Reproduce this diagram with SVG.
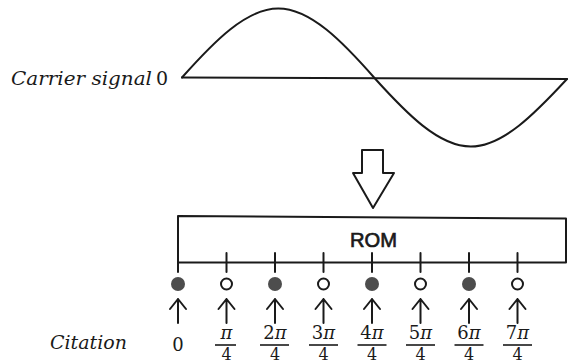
<svg xmlns="http://www.w3.org/2000/svg" width="572" height="364" viewBox="0 0 572 364">
<style>
.ln{fill:none;stroke:#1a1a1a;stroke-width:2;stroke-linecap:round;stroke-linejoin:round}
.it{font-family:"DejaVu Serif","Liberation Serif",serif;font-style:italic;fill:#1a1a1a}
.num{font-family:"DejaVu Serif","Liberation Serif",serif;fill:#1a1a1a;font-size:18px;text-anchor:middle}
.den{font-family:"DejaVu Serif","Liberation Serif",serif;fill:#1a1a1a;font-size:16px;text-anchor:middle}
.fill{fill:#4d4d4d}
.hol{fill:#fff;stroke:#1a1a1a;stroke-width:2}
.bar{stroke:#1a1a1a;stroke-width:1.6}
</style>
<rect width="572" height="364" fill="#fff"/>
<g id="carrier">
<text class="it" x="11" y="85" font-size="19" textLength="141" lengthAdjust="spacingAndGlyphs">Carrier  signal</text>
<text x="156" y="85" font-family="DejaVu Serif, Liberation Serif, serif" font-size="19" fill="#1a1a1a">0</text>
<line class="ln" x1="182" y1="77.5" x2="567" y2="79"/>
<path class="ln" d="M182,77.5 C214.1,41.4 246.2,8.5 278.3,8.5 C310.3,8.5 342.4,41.4 374.5,78 C406.6,113.6 438.7,146.5 470.8,146.5 C502.8,146.5 534.9,113.6 567,79"/>
</g>
<g id="big-arrow">
<path class="ln" d="M362,150 L383,150 L383,173 L394,173 L373,208 L353,173 L362,173 Z"/>
</g>
<g id="rom">
<path class="ln" d="M178,272 L178,216 L566,218.5 L566,262.5 L178,262.5"/>
<text x="373.5" y="247" font-family="Liberation Sans, Arial, sans-serif" font-size="21" text-anchor="middle" textLength="47" lengthAdjust="spacingAndGlyphs" fill="#1a1a1a" stroke="#1a1a1a" stroke-width="0.7">ROM</text>
<g class="ln">
<line x1="226.5" y1="253" x2="226.5" y2="272"/>
<line x1="275" y1="253" x2="275" y2="272"/>
<line x1="323.5" y1="253" x2="323.5" y2="272"/>
<line x1="372" y1="253" x2="372" y2="272"/>
<line x1="420.5" y1="253" x2="420.5" y2="272"/>
<line x1="469" y1="253" x2="469" y2="272"/>
<line x1="517.5" y1="253" x2="517.5" y2="272"/>
</g>
</g>
<g id="citation-label">
<text class="it" x="50" y="349" font-size="19" textLength="77" lengthAdjust="spacingAndGlyphs">Citation</text>
</g>
<g id="s0"><circle class="fill" cx="178" cy="284" r="7"/><text class="num" x="178" y="351" font-size="19">0</text></g>
<g id="s1"><circle class="hol" cx="226.5" cy="284" r="5.5"/><text class="num" x="226.5" y="339"><tspan font-style="italic">π</tspan></text><line class="bar" x1="215" y1="345" x2="236" y2="345"/><text class="den" x="226.5" y="360">4</text></g>
<g id="s2"><circle class="fill" cx="275" cy="284" r="7"/><text class="num" x="275" y="339">2<tspan font-style="italic">π</tspan></text><line class="bar" x1="260" y1="345" x2="289" y2="345"/><text class="den" x="275" y="360">4</text></g>
<g id="s3"><circle class="hol" cx="323.5" cy="284" r="5.5"/><text class="num" x="323.5" y="339">3<tspan font-style="italic">π</tspan></text><line class="bar" x1="309" y1="345" x2="338" y2="345"/><text class="den" x="323.5" y="360">4</text></g>
<g id="s4"><circle class="fill" cx="372" cy="284" r="7"/><text class="num" x="372" y="339">4<tspan font-style="italic">π</tspan></text><line class="bar" x1="357.5" y1="345" x2="386.5" y2="345"/><text class="den" x="372" y="360">4</text></g>
<g id="s5"><circle class="hol" cx="420.5" cy="284" r="5.5"/><text class="num" x="420.5" y="339">5<tspan font-style="italic">π</tspan></text><line class="bar" x1="406" y1="345" x2="435" y2="345"/><text class="den" x="420.5" y="360">4</text></g>
<g id="s6"><circle class="fill" cx="469" cy="284" r="7"/><text class="num" x="469" y="339">6<tspan font-style="italic">π</tspan></text><line class="bar" x1="454.5" y1="345" x2="483.5" y2="345"/><text class="den" x="469" y="360">4</text></g>
<g id="s7"><circle class="hol" cx="517.5" cy="284" r="5.5"/><text class="num" x="517.5" y="339">7<tspan font-style="italic">π</tspan></text><line class="bar" x1="503" y1="345" x2="532" y2="345"/><text class="den" x="517.5" y="360">4</text></g>
<g id="connectors" class="ln">
<path d="M178,323 V299 M170,309 L178,299 L186,309"/>
<path d="M226.5,323 V299 M218.5,309 L226.5,299 L234.5,309"/>
<path d="M275,323 V299 M267,309 L275,299 L283,309"/>
<path d="M323.5,323 V299 M315.5,309 L323.5,299 L331.5,309"/>
<path d="M372,323 V299 M364,309 L372,299 L380,309"/>
<path d="M420.5,323 V299 M412.5,309 L420.5,299 L428.5,309"/>
<path d="M469,323 V299 M461,309 L469,299 L477,309"/>
<path d="M517.5,323 V299 M509.5,309 L517.5,299 L525.5,309"/>
</g>
</svg>
